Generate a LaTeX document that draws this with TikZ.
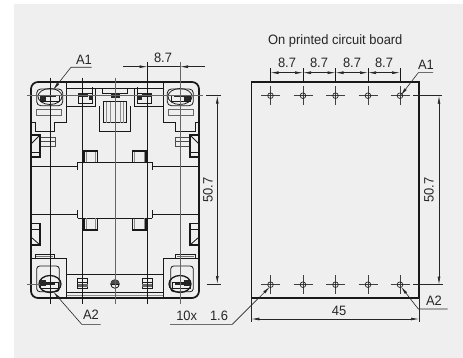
\documentclass[tikz,border=0pt]{standalone}
\usepackage{fontspec}
\setmainfont[FakeStretch=0.95]{Liberation Sans}
\usetikzlibrary{arrows.meta}
\definecolor{panel}{HTML}{EFEFEF}
\tikzset{
  lbl/.style={inner sep=0pt,font=\fontsize{13.6}{14}\selectfont,text=black!85},
  thick line/.style={line width=1.7pt,black!90},
  part/.style={line width=.8pt,black!90},
  heavy/.style={line width=1.3pt,black!90},
  gr/.style={line width=.9pt,black!45},
  centre/.style={line width=.8pt,black!90},
  dim/.style={line width=.6pt,black!85},
  dimboth/.style={dim,{Latex[length=8pt,width=2.8pt]}-{Latex[length=8pt,width=2.8pt]}},
  dimto/.style={dim,-{Latex[length=8pt,width=2.8pt]}},
  blk/.style={fill=black!85,draw=none}
}
\newcommand{\cornertop}{%
  \draw[part] (66.7,82) -- (66.7,122) -- (54.3,122) -- (54.3,131.7) -- (35,131.7) -- (35,122.7) -- (31,122.7);
  \draw[part,rounded corners=4pt] (36.7,89) rectangle (62.7,105.7);
  \draw[part] (50,96.5) ellipse (12 and 8);
  \draw[part] (40,95) rectangle (59,101.5);
  \fill[blk] (40,95) rectangle (46,101.5);
  \fill[blk] (46,95) rectangle (56,97);
  \draw[part,black!60] (36.7,109.3) rectangle (61.7,115.3);
  \draw[part,black!70] (40,137.3) rectangle (55,146.7);
  \draw[part,black!70] (40,141.7) -- (55,141.7);
  \draw[heavy] (31,135) -- (40,135) -- (40,157) -- (31,157);
  \draw[part] (31,152) -- (40,152);
  \draw[part] (31,144) -- (40,135);
  \draw[part] (78.3,93.3) rectangle (92.7,103.3);
  \fill[blk] (78.3,93.3) rectangle (88,97);
  \fill[blk] (88.5,95.5) rectangle (92.7,100);
  \draw[part] (82.7,87) -- (82.7,93.3) (92.7,87) -- (92.7,93.3);
  \draw[part] (66.7,106) -- (95.7,106) -- (95.7,88);
  \draw[part] (99.3,106) -- (99.3,131.7) -- (115,131.7);
  \draw[part] (103.3,101.7) -- (115,101.7) (103.3,101.7) -- (103.3,122.7) -- (115,122.7);
  \draw[gr] (106.7,101.7) -- (106.7,122.7) (110,101.7) -- (110,122.7);
  \draw[part] (102.7,88) -- (102.7,93.3) -- (115,93.3);
  \draw[heavy] (84.3,162.3) -- (84.3,151) -- (97.7,151) -- (97.7,162.3);
  \draw[gr] (86,162.3) -- (86,152.5);
  \draw[part] (31,166) -- (77.7,166) (77.7,162.3) -- (77.7,170) (77.7,162.3) -- (115,162.3);
  \draw[heavy] (132.7,162.3) -- (132.7,151) -- (146,151) -- (146,162.3);
  \draw[gr] (134.3,162.3) -- (134.3,152.5);
}
\newcommand{\cornermid}{%
  \draw[part] (31,214.3) -- (77.7,214.3) (77.7,210.5) -- (77.7,218.3) (77.7,218.3) -- (115,218.3);
  \draw[heavy] (84.3,218.3) -- (84.3,230) -- (97.7,230) -- (97.7,218.3);
  \draw[gr] (86,218.3) -- (86,228.5);
  \draw[heavy] (132.7,218.3) -- (132.7,230) -- (146,230) -- (146,218.3);
  \draw[gr] (134.3,218.3) -- (134.3,228.5);
  \draw[heavy] (31,223.3) -- (40,223.3) -- (40,245) -- (31,245);
  \draw[part] (31,229) -- (40,229);
  \draw[part] (31,237) -- (40,245);
  \draw[part] (31,258.3) -- (66.7,258.3) -- (66.7,298);
  \draw[part] (35,258.3) -- (35,254) -- (54.3,254) -- (54.3,258.3);
  \draw[part,black!55] (36,256.3) -- (53,256.3);
  \draw[part,rounded corners=3pt] (36.7,266) rectangle (59.3,291.7);
  \draw[heavy] (50,284) ellipse (11 and 8.5);
  \draw[part] (40,282) rectangle (58,288);
  \fill[blk] (40,280) rectangle (46,286);
  \fill[blk] (46,283) rectangle (55,285);
  \draw[part] (77.7,278.3) rectangle (87.7,288.3);
  \draw[part] (77.7,282) -- (87.7,282);
  \fill[black!60] (77.7,284) rectangle (87.7,286.5);
  \draw[part] (66.7,274.3) -- (115,274.3) (66.7,292.7) -- (115,292.7);
  \draw[gr] (66.7,295) -- (115,295);
}
\begin{document}
\begin{tikzpicture}[x=1pt,y=-1pt]
\useasboundingbox (0,0) rectangle (463,358);
\fill[panel] (14,4) rectangle (463,358);

% housing
\draw[thick line,rounded corners=7pt] (31,82) rectangle (199,298);
\draw[part] (66.7,88) -- (163.3,88);
\cornertop
\cornermid
\begin{scope}[xshift=230pt,xscale=-1]
  \cornertop
  \cornermid
\end{scope}
\fill[blk] (110.7,93.3) rectangle (120,98.3);
\draw[part] (115,284) circle (4.3);
\fill[black!70] (110.7,284) arc (180:360:4.3) -- cycle;
\draw[part] (110.7,284) -- (119.3,284);

% centre lines
\coordinate (ca) at (50,77.7);   \coordinate (cA) at (50,304);
\coordinate (cb) at (82.7,77.7); \coordinate (cB) at (82.7,304);
\coordinate (cc) at (115,77.7);  \coordinate (cC) at (115,304);
\coordinate (cd) at (147.5,62);  \coordinate (cD) at (147.5,304);
\coordinate (ce) at (180,62);    \coordinate (cE) at (180,304);
\draw[centre] (ca) -- (cA);
\draw[centre] (cb) -- (cB);
\draw[gr,black!60] (cc) -- (cC);
\draw[centre] (cd) -- (cD);
\draw[gr,black!60] (ce) -- (cE);
\coordinate (hl) at (27,95.7);  \coordinate (hr) at (202.5,95.7);
\draw[gr,black!60,line width=.6pt] (hl) -- (hr);
\coordinate (bl) at (27,284);
\coordinate (br) at (40,284);
\draw[gr,black!60,line width=.6pt] (bl) -- (br);

% 8.7 on housing
\coordinate (p1) at (123.3,66.7); \coordinate (p2) at (147.5,66.7);
\coordinate (p3) at (180,66.7);   \coordinate (p4) at (205,66.7);
\draw[dimto] (p1) -- (p2);
\draw[dim] (p2) -- (p3);
\draw[dimto] (p4) -- (p3);
\node[lbl] (d0) at (163,58) {8.7};

% A1 / A2 housing
\coordinate (a1tip) at (53,90);  \coordinate (a1k) at (71,67.3); \coordinate (a1e) at (91.7,67.3);
\draw[dim,{Latex[length=8pt,width=2.8pt]}-] (a1tip) -- (a1k) -- (a1e);
\node[lbl] (a1l) at (84,60) {A1};
\coordinate (a2tip) at (53.3,291.7); \coordinate (a2k) at (81.7,324.3); \coordinate (a2e) at (100.7,324.3);
\draw[dim,{Latex[length=8pt,width=2.8pt]}-] (a2tip) -- (a2k) -- (a2e);
\node[lbl] (a2l) at (91,315) {A2};

% 50.7 housing
\coordinate (t1) at (206,95.7); \coordinate (t2) at (221,95.7);
\coordinate (b1) at (206.5,284); \coordinate (b2) at (221,284);
\coordinate (v1) at (217.3,95.7); \coordinate (v2) at (217.3,284);
\draw[dim] (t1) -- (t2);
\draw[dim] (b1) -- (b2);
\draw[dimboth] (v1) -- (v2);
\node[lbl,rotate=90] (d1) at (208,190) {50.7};

% board
\node[lbl] (title) at (335.3,40.7) {On printed circuit board};
\draw[line width=1.6pt,black!90] (251.3,82.3) rectangle (419,298);
\foreach \n/\x in {1/270.5,2/303,3/335.5,4/368,5/400}{
  \foreach \m/\y in {t/95.7,b/284.7}{
    \coordinate (h\n\m) at (\x,\y);
    \draw[line width=.6pt,black!75] (\x-9.5,\y) -- (\x+9.5,\y) (\x,\y-9.5) -- (\x,\y+9.5);
    \draw[line width=.7pt,black!85] (h\n\m) circle (2.8);
    \fill[black!85] (h\n\m) circle (.6);
  }
  \coordinate (e\n) at (\x,68.3);
  \coordinate (f\n) at (\x,82.3);
  \draw[line width=.8pt,black!90] (e\n) -- (f\n);
}
\foreach \n/\x in {1/270.5,2/303,3/335.5,4/368,5/400}{
  \coordinate (g\n) at (\x,72.7);
}
\draw[dimboth] (g1) -- (g2);
\draw[dimboth] (g2) -- (g3);
\draw[dimboth] (g3) -- (g4);
\draw[dimboth] (g4) -- (g5);
\node[lbl] (n1) at (287,62.7) {8.7};
\node[lbl] (n2) at (319,62.7) {8.7};
\node[lbl] (n3) at (352,62.7) {8.7};
\node[lbl] (n4) at (384,62.7) {8.7};
\coordinate (ra) at (400.7,95.5); \coordinate (rk) at (418.3,72.7); \coordinate (re) at (433,72.7);
\draw[dim,{Latex[length=8pt,width=2.8pt]}-] (ra) -- (rk) -- (re);
\node[lbl] (ra1) at (426,65) {A1};
% 50.7 board
\coordinate (rt1) at (413,95.7); \coordinate (rt2) at (442,95.7);
\coordinate (rb1) at (413.3,284.7); \coordinate (rb2) at (442.7,284.7);
\coordinate (rv1) at (439,95.7); \coordinate (rv2) at (439,284.7);
\draw[dim] (rt1) -- (rt2);
\draw[dim] (rb1) -- (rb2);
\draw[dimboth] (rv1) -- (rv2);
\node[lbl,rotate=90] (d2) at (429,190) {50.7};
% A2 board
\coordinate (rc) at (401,286.7); \coordinate (rck) at (418.3,309); \coordinate (rce) at (447.7,309);
\draw[dim,{Latex[length=8pt,width=2.8pt]}-] (rc) -- (rck) -- (rce);
\node[lbl] (ra2) at (434,300.7) {A2};
% 10x 1.6
\coordinate (tx) at (270,286.7); \coordinate (tk) at (232.3,324.3); \coordinate (te) at (170,324.3);
\draw[dim,{Latex[length=8pt,width=2.8pt]}-] (tx) -- (tk) -- (te);
\node[lbl] (tn) at (186.7,315.7) {10x};
\node[lbl] (td) at (219,315.7) {1.6};
% 45
\coordinate (w1a) at (251.3,298); \coordinate (w1b) at (251.3,321.7);
\coordinate (w2a) at (419,298);   \coordinate (w2b) at (419,321.7);
\coordinate (w1) at (251.3,319);  \coordinate (w2) at (419,319);
\draw[dim] (w1a) -- (w1b);
\draw[dim] (w2a) -- (w2b);
\draw[dimboth] (w1) -- (w2);
\node[lbl] (d45) at (339,311) {45};
\end{tikzpicture}
\end{document}
